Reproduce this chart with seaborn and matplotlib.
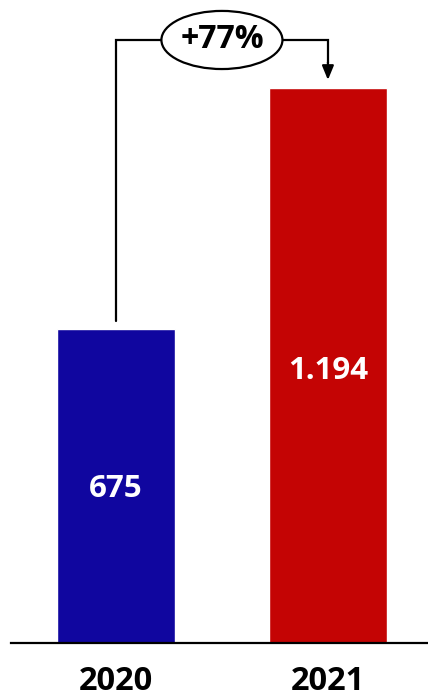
import matplotlib
matplotlib.use("Agg")
import matplotlib.pyplot as plt
from matplotlib.patches import Ellipse
import seaborn as sns
import pandas as pd

years = ["2020", "2021"]
values = [675, 1194]
value_labels = ["675", "1.194"]
change_label = "+77%"
colors = ["#10069F", "#C40404"]

sns.set_style("white")
plt.rcParams['font.family'] = ['Open Sans', 'DejaVu Sans']

df = pd.DataFrame({"year": years, "value": values})

fig = plt.figure(figsize=(4.28, 6.97), dpi=100)
ax = fig.add_axes([11/428, 54/697, 417/428, 643/697])

sns.barplot(data=df, x="year", y="value", hue="year", palette=colors,
            width=0.557, legend=False, ax=ax, saturation=1)

ax.set_xlim(-0.495, 1.472)
ax.set_ylim(0, 1383)

for s in ["top", "right", "left"]:
    ax.spines[s].set_visible(False)
ax.spines["bottom"].set_color("black")
ax.spines["bottom"].set_linewidth(1.6)
ax.set_yticks([])
ax.set_xlabel("")
ax.set_ylabel("")
ax.tick_params(axis="x", length=0, pad=16)
for lbl in ax.get_xticklabels():
    lbl.set_fontsize(23.5)
    lbl.set_fontweight("bold")
    lbl.set_color("black")

# value labels, near the middle of each bar
for i, (v, t) in enumerate(zip(values, value_labels)):
    ax.text(i, v * 0.49, t, ha="center", va="center",
            color="white", fontsize=22.5, fontweight="bold")

# bracket
top = max(values) + 103
y0 = values[0] + 18
y1 = values[1] + 17
ax.plot([0, 0, 1, 1], [y0, top, top, y1 + 36], color="black", lw=1.6,
        solid_joinstyle="miter", zorder=3)
ax.annotate("", xy=(1, y1), xytext=(1, y1 + 38),
            arrowprops=dict(arrowstyle="-|>,head_length=0.85,head_width=0.35",
                            color="black", lw=1.6, shrinkA=0, shrinkB=0))
ell = Ellipse((0.5, top), width=0.571, height=125, facecolor="white",
              edgecolor="black", lw=1.6, zorder=4)
ax.add_patch(ell)
ax.text(0.5, top, change_label, ha="center", va="center", fontsize=23,
        fontweight="bold", color="black", zorder=5)

fig.savefig("out.png", dpi=100)
